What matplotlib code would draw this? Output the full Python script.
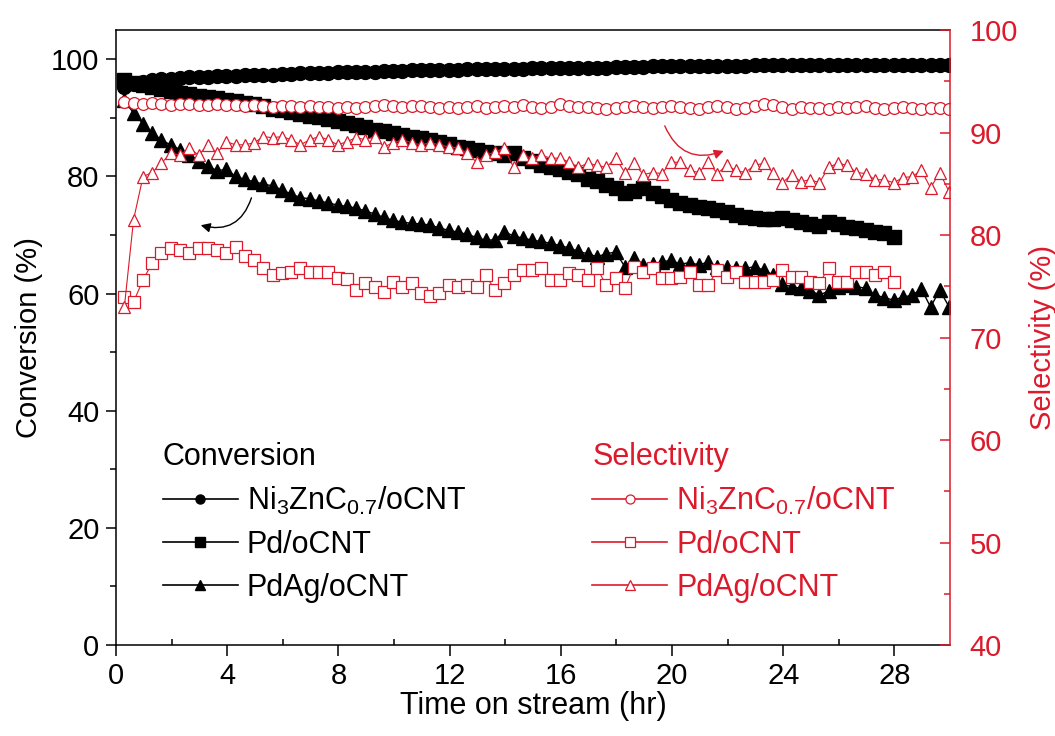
import matplotlib.pyplot as plt
from matplotlib.lines import Line2D

plt.rcParams["font.family"] = ["Liberation Sans", "DejaVu Sans"]
plt.rcParams["mathtext.fontset"] = "custom"
plt.rcParams["mathtext.rm"] = "Liberation Sans"
plt.rcParams["mathtext.it"] = "Liberation Sans:italic"
plt.rcParams["mathtext.default"] = "regular"

RED = "#dc1a2c"

# sampling times (hr), one point every ~20 min
TIME = [
    0.3, 0.63, 0.97, 1.3, 1.63, 1.97, 2.3, 2.63, 2.97, 3.3,
    3.63, 3.97, 4.3, 4.63, 4.97, 5.3, 5.63, 5.97, 6.3, 6.63,
    6.97, 7.3, 7.63, 7.97, 8.3, 8.63, 8.97, 9.3, 9.63, 9.97,
    10.3, 10.63, 10.97, 11.3, 11.63, 11.97, 12.3, 12.63, 12.97, 13.3,
    13.63, 13.97, 14.3, 14.63, 14.97, 15.3, 15.63, 15.97, 16.3, 16.63,
    16.97, 17.3, 17.63, 17.97, 18.3, 18.63, 18.97, 19.3, 19.63, 19.97,
    20.3, 20.63, 20.97, 21.3, 21.63, 21.97, 22.3, 22.63, 22.97, 23.3,
    23.63, 23.97, 24.3, 24.63, 24.97, 25.3, 25.63, 25.97, 26.3, 26.63,
    26.97, 27.3, 27.63, 27.97, 28.3, 28.63, 28.97, 29.3, 29.63, 29.97,
]

# conversion (%)
NI_CONV = [
    95.2, 95.8, 96.2, 96.4, 96.6, 96.7, 96.8, 96.9, 97.0, 97.0,
    97.1, 97.2, 97.2, 97.3, 97.3, 97.4, 97.4, 97.5, 97.5, 97.6,
    97.6, 97.7, 97.7, 97.8, 97.8, 97.8, 97.9, 97.9, 98.0, 98.0,
    98.0, 98.1, 98.1, 98.1, 98.2, 98.2, 98.2, 98.3, 98.3, 98.3,
    98.4, 98.4, 98.4, 98.4, 98.5, 98.5, 98.5, 98.5, 98.6, 98.6,
    98.6, 98.6, 98.6, 98.7, 98.7, 98.7, 98.7, 98.8, 98.8, 98.8,
    98.8, 98.8, 98.9, 98.9, 98.9, 98.9, 98.9, 98.9, 99.0, 99.0,
    99.0, 99.0, 99.0, 99.0, 99.0, 99.0, 99.0, 99.1, 99.0, 99.1,
    99.1, 99.0, 99.1, 99.1, 99.0, 99.1, 99.1, 99.0, 99.1, 99.1,
]
PD_CONV = [
    96.4, 96.0, 95.6, 95.2, 94.9, 94.6, 94.3, 94.0, 93.8, 93.6,
    93.4, 93.1, 92.9, 92.6, 92.3, 92.0, 91.6, 91.3, 91.0, 90.7,
    90.4, 90.1, 89.8, 89.4, 89.1, 88.8, 88.4, 88.0, 87.8, 87.5,
    87.1, 86.8, 86.5, 86.2, 85.8, 85.5, 85.1, 84.8, 84.5, 84.2,
    84.0, 83.6, 84.0, 83.2, 82.6, 82.0, 81.6, 81.2, 80.8, 80.4,
    79.6, 79.2, 78.6, 78.0, 77.2, 77.6, 78.0, 77.2, 76.6, 76.0,
    75.4, 75.2, 74.8, 74.6, 74.3, 73.9, 73.5, 73.1, 72.9, 72.8,
    72.8, 72.9, 72.6, 72.2, 71.9, 71.6, 72.2, 71.8, 71.4, 71.2,
    70.9, 70.6, 70.4, 69.6,
]
PDAG_CONV = [
    93.0, 90.8, 89.0, 87.5, 86.2, 85.4, 84.6, 83.7, 82.7, 81.8,
    81.0, 81.2, 80.0, 79.5, 79.1, 78.7, 78.4, 77.7, 77.0, 76.4,
    76.2, 75.8, 75.5, 75.1, 74.9, 74.6, 74.1, 73.6, 73.0, 72.5,
    72.2, 72.0, 71.9, 71.7, 71.2, 70.8, 70.5, 70.1, 69.6, 69.1,
    69.2, 70.6, 69.8, 69.5, 69.1, 68.9, 68.6, 68.2, 67.8, 67.2,
    66.8, 66.3, 66.8, 67.1, 64.6, 66.0, 64.8, 65.0, 65.4, 65.7,
    65.0, 65.3, 64.9, 65.4, 64.6, 64.5, 64.3, 64.3, 64.6, 64.0,
    63.2, 61.6, 61.2, 60.9, 60.5, 59.8, 60.4, 61.2, 61.4, 61.2,
    60.9, 59.8, 59.3, 58.9, 59.4, 59.7, 60.8, 57.7, 60.6, 57.7,
]

# selectivity (%)
NI_SEL = [
    93.0, 92.9, 92.8, 92.9, 92.8, 92.7, 92.8, 92.8, 92.7, 92.7,
    92.8, 92.7, 92.7, 92.6, 92.7, 92.6, 92.5, 92.6, 92.6, 92.5,
    92.6, 92.5, 92.5, 92.4, 92.5, 92.4, 92.5, 92.6, 92.7, 92.6,
    92.5, 92.6, 92.6, 92.5, 92.4, 92.5, 92.4, 92.5, 92.6, 92.4,
    92.5, 92.6, 92.5, 92.7, 92.5, 92.4, 92.5, 92.8, 92.6, 92.5,
    92.5, 92.4, 92.3, 92.4, 92.5, 92.6, 92.5, 92.4, 92.5, 92.6,
    92.5, 92.4, 92.3, 92.5, 92.6, 92.5, 92.3, 92.4, 92.6, 92.8,
    92.7, 92.5, 92.3, 92.5, 92.4, 92.4, 92.3, 92.5, 92.4, 92.5,
    92.6, 92.4, 92.3, 92.4, 92.5, 92.4, 92.3, 92.4, 92.4, 92.3,
]
PD_SEL = [
    74.0, 73.5, 75.6, 77.3, 78.2, 78.7, 78.5, 78.2, 78.7, 78.7,
    78.5, 78.2, 78.8, 78.0, 77.6, 76.8, 76.1, 76.3, 76.4, 76.8,
    76.4, 76.4, 76.4, 75.8, 75.7, 74.6, 75.3, 74.9, 74.4, 75.4,
    74.9, 75.3, 74.3, 74.1, 74.3, 75.1, 74.9, 75.1, 74.9, 76.1,
    74.6, 75.3, 76.1, 76.6, 76.6, 76.8, 75.6, 75.6, 76.3, 76.1,
    75.6, 76.8, 75.1, 75.8, 74.8, 76.9, 76.4, 76.8, 75.8, 75.8,
    75.9, 76.4, 75.1, 75.1, 76.6, 75.9, 76.4, 75.4, 75.4, 75.4,
    75.6, 76.6, 75.9, 75.9, 75.4, 75.3, 76.8, 75.4, 75.4, 76.4,
    76.4, 76.1, 76.4, 75.4,
]
PDAG_SEL = [
    73.0, 81.5, 85.7, 86.1, 87.0, 88.0, 87.8, 88.5, 87.8, 88.8,
    88.0, 89.1, 88.8, 88.8, 89.0, 89.6, 89.5, 89.6, 89.3, 88.8,
    89.3, 89.6, 89.3, 88.8, 89.1, 89.5, 89.3, 89.6, 88.6, 89.0,
    89.3, 89.0, 88.8, 89.0, 88.8, 88.6, 88.5, 88.0, 87.1, 87.8,
    88.1, 88.5, 86.6, 87.8, 87.5, 87.8, 87.5, 87.5, 87.1, 86.6,
    87.0, 86.8, 86.6, 87.5, 86.1, 87.0, 85.9, 86.1, 86.0, 87.1,
    87.1, 86.3, 86.1, 87.1, 86.0, 86.8, 86.3, 86.1, 86.8, 87.0,
    86.1, 85.1, 85.9, 85.2, 85.4, 85.1, 86.6, 87.0, 86.8, 86.1,
    86.0, 85.4, 85.4, 85.1, 85.6, 85.7, 86.3, 84.6, 86.1, 84.2,
]

LABELS = ["Ni$_3$ZnC$_{0.7}$/oCNT", "Pd/oCNT", "PdAg/oCNT"]
MARKERS = ["o", "s", "^"]
CONV_MS = [10, 9.5, 10]

fig = plt.figure(figsize=(10.55, 7.36), dpi=100)
ax = fig.add_axes([0.110, 0.1236, 0.7905, 0.8356])
ax2 = ax.twinx()

conv = [NI_CONV, PD_CONV, PDAG_CONV]
sel = [NI_SEL, PD_SEL, PDAG_SEL]
for vals, m, ms in zip(conv, MARKERS, CONV_MS):
    ax.plot(TIME[:len(vals)], vals, color="k", lw=1, marker=m, ms=ms,
            mec="k", mfc="k")
for vals, m in zip(sel, MARKERS):
    ax2.plot(TIME[:len(vals)], vals, color=RED, lw=0.8, marker=m, ms=8.5,
             mec=RED, mfc="white", mew=0.9)

ax.set_xlim(0, 30)
ax.set_ylim(0, 105)
ax.set_xticks(range(0, 29, 4))
ax.set_xticks(range(2, 30, 4), minor=True)
ax.set_yticks(range(0, 101, 20))
ax.set_yticks(range(10, 101, 20), minor=True)
ax.tick_params(axis="both", which="major", labelsize=21, width=1.1)
ax.tick_params(axis="y", which="major", direction="out", length=7, pad=5)
ax.tick_params(axis="y", which="minor", direction="out", length=4, width=1.1)
ax.tick_params(axis="x", which="major", direction="out", length=8, pad=4)
ax.tick_params(axis="x", which="minor", direction="in", length=4, width=1.1)

ax2.set_ylim(40, 100)
ax2.set_yticks(range(40, 101, 10))
ax2.set_yticks(range(45, 100, 10), minor=True)
ax2.tick_params(axis="y", which="both", direction="in", colors=RED,
                labelsize=21, width=1.1, pad=14)
ax2.tick_params(axis="y", which="major", length=7)
ax2.tick_params(axis="y", which="minor", length=4)

for s in ["left", "bottom", "top"]:
    ax.spines[s].set_linewidth(1.1)
    ax2.spines[s].set_visible(False)
ax.spines["right"].set_visible(False)
ax2.spines["right"].set_color(RED)
ax2.spines["right"].set_linewidth(1.1)

ax.set_xlabel("Time on stream (hr)", fontsize=22, labelpad=1)
ax.set_ylabel("Conversion (%)", fontsize=21, labelpad=6)
ax2.set_ylabel("Selectivity (%)", fontsize=21, color=RED, labelpad=8)

# curved pointer arrows
ax.annotate("", xy=(2.95, 71.8), xytext=(4.9, 76.8),
            arrowprops=dict(arrowstyle="-|>", color="k", lw=1,
                            mutation_scale=14,
                            connectionstyle="arc3,rad=-0.5"))
ax2.annotate("", xy=(21.95, 88.3), xytext=(19.7, 90.9),
             arrowprops=dict(arrowstyle="-|>", color=RED, lw=1,
                             mutation_scale=14,
                             connectionstyle="arc3,rad=0.5"))

# two legend blocks
h_conv = [Line2D([], [], color="k", lw=1.2, marker=m, ms=6.5, mfc="k")
          for m in MARKERS]
h_sel = [Line2D([], [], color=RED, lw=1.2, marker=m, ms=6.5, mfc="white",
                mec=RED, mew=0.9) for m in MARKERS]
common = dict(loc="upper left", frameon=False, fontsize=22,
              title_fontsize=22, alignment="left", handlelength=2.45,
              handletextpad=0.3, labelspacing=0.42, borderpad=0,
              borderaxespad=0)
leg1 = ax2.legend(h_conv, LABELS, title="Conversion",
                  bbox_to_anchor=(0.056, 0.33), **common)
ax2.add_artist(leg1)
leg2 = ax2.legend(h_sel, LABELS, title="Selectivity", labelcolor=RED,
                  bbox_to_anchor=(0.571, 0.33), **common)
leg2.get_title().set_color(RED)

fig.savefig("out.png", dpi=100)
